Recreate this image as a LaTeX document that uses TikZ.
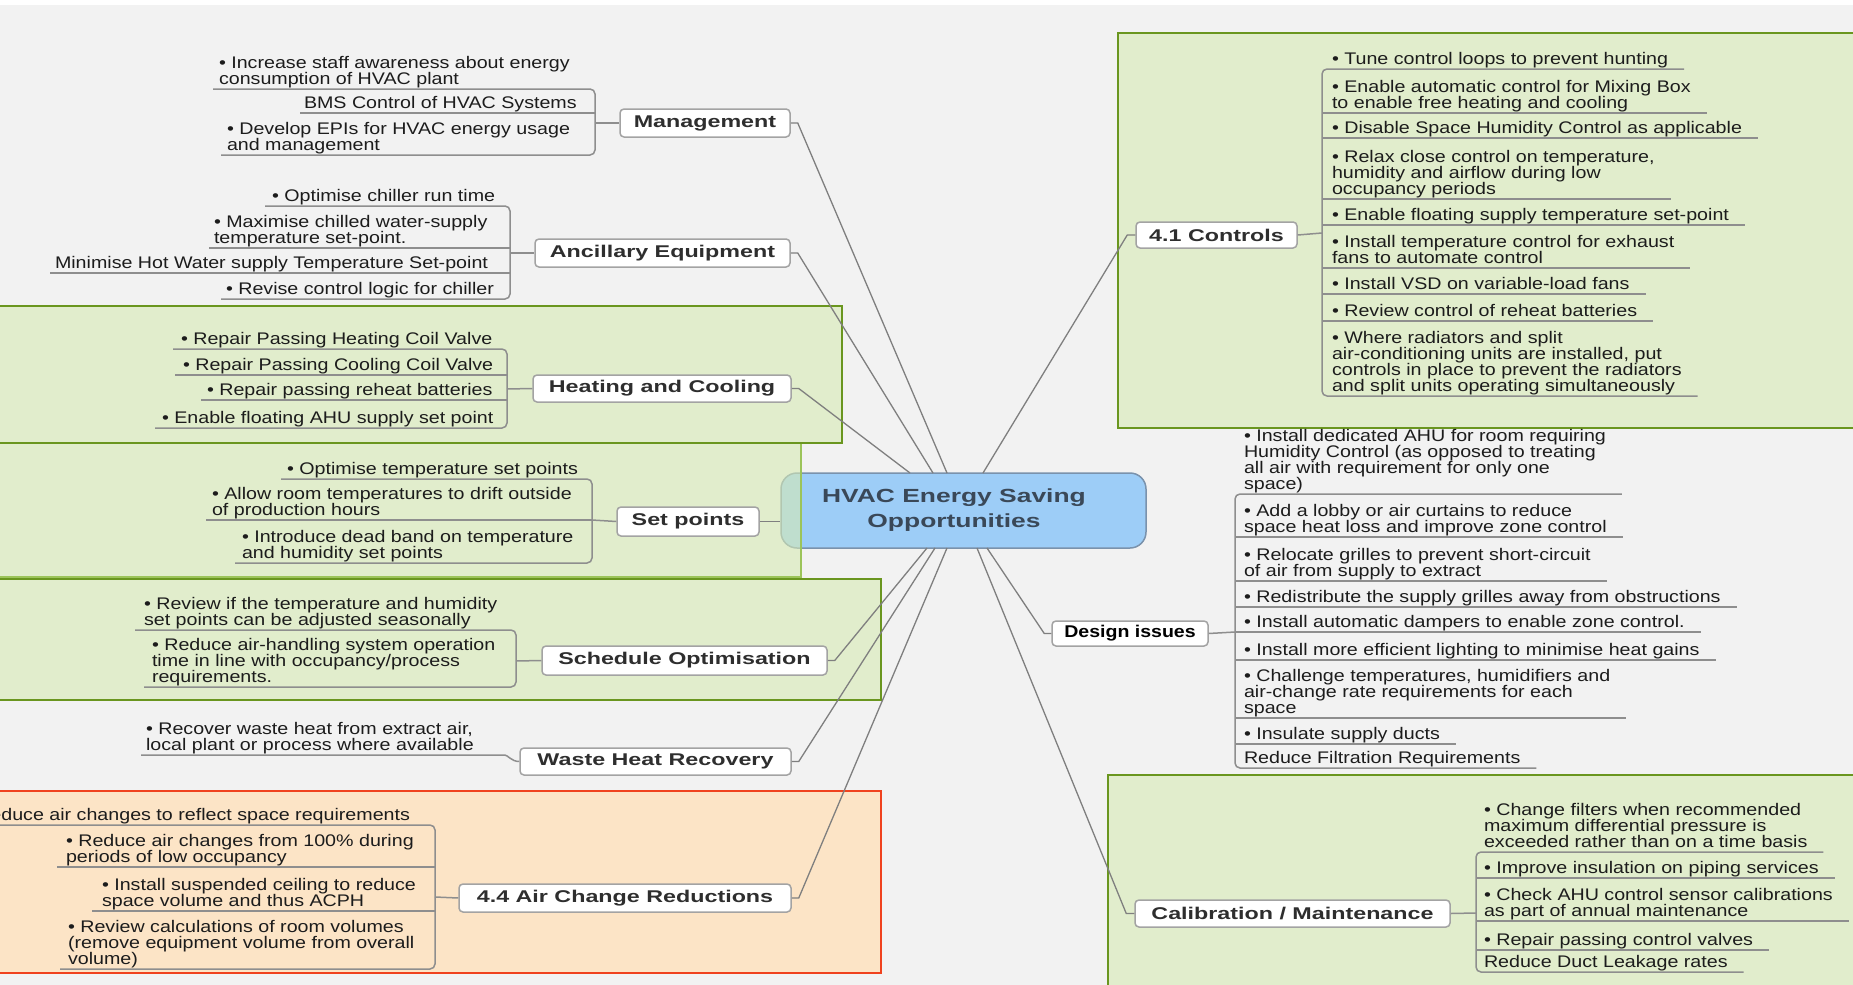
\documentclass[tikz,border=0pt]{standalone}
\usepackage{fontspec}
\setmainfont{Liberation Sans}
\newfontfamily\leaffont[FakeStretch=1.17]{Liberation Sans}
\newfontfamily\topicfont[FakeStretch=1.37]{Liberation Sans}
\newfontfamily\plainbold[FakeStretch=1.15]{Liberation Sans}
\newfontfamily\hubfont[FakeStretch=1.39]{Liberation Sans}
\usetikzlibrary{calc}

\definecolor{canvascol}{HTML}{F2F2F2}
\definecolor{panelgreen}{HTML}{D6EAB4}
\definecolor{panelrim}{HTML}{6A961F}
\definecolor{panelrimlight}{HTML}{9CC45A}
\definecolor{alertfill}{HTML}{FCE4C6}
\definecolor{alertrim}{HTML}{F0421E}
\definecolor{hubfillcol}{HTML}{9DCDF7}
\definecolor{hubrimcol}{HTML}{7A92AC}
\definecolor{hubtextcol}{HTML}{3A4858}
\definecolor{spokecol}{HTML}{7F7F7F}
\definecolor{twigcol}{HTML}{8E8E8E}
\definecolor{topicrimcol}{HTML}{A3A3A3}
\definecolor{topiccol}{HTML}{2E2E2E}
\definecolor{leafcol}{HTML}{1C1C1C}

\pgfdeclarelayer{canvaslayer}
\pgfdeclarelayer{hublayer}
\pgfdeclarelayer{panellayer}
\pgfsetlayers{canvaslayer,hublayer,panellayer,main}

\tikzset{
  leaf/.style={anchor=south west, inner sep=0pt, outer sep=0pt, align=left,
    text=leafcol, font=\leaffont\fontsize{16.8}{16}\selectfont,
    execute at end node=\strut},
  topic/.style={draw=topicrimcol, line width=1.5pt, fill=white, rounded corners=4pt,
    inner sep=0pt, text=topiccol, font=\topicfont\bfseries\fontsize{17}{17}\selectfont},
  twig/.style={draw=twigcol, line width=1.5pt, rounded corners=5pt},
  spoke/.style={draw=spokecol, line width=1.3pt},
  greenpanel/.style={fill=panelgreen, fill opacity=0.6, draw=panelrim, draw opacity=1, line width=2.5pt},
  softpanel/.style={fill=panelgreen, fill opacity=0.6, draw=panelrimlight, draw opacity=1, line width=1.2pt},
  alertpanel/.style={fill=alertfill, draw=alertrim, line width=2pt}
}

\begin{document}
\begin{tikzpicture}[x=1pt,y=-1pt]
\useasboundingbox (0,0) rectangle (1853,985);

% canvas
\begin{pgfonlayer}{canvaslayer}
  \fill[canvascol] (0,0) rectangle (1853,985);
  \fill[white] (0,0) rectangle (1853,5);
\end{pgfonlayer}

% central topic
\begin{pgfonlayer}{hublayer}
  \node[draw=hubrimcol, fill=hubfillcol, line width=1.5pt, rounded corners=16pt,
        minimum width=365pt, minimum height=75pt, inner sep=0pt] (hub) at (963.5,510.5) {};
  \node[align=center, inner sep=0pt, text=hubtextcol,
        font=\hubfont\bfseries\fontsize{19}{25}\selectfont] (hubtitle) at (954,510)
        {HVAC Energy Saving\\Opportunities};
\end{pgfonlayer}

% highlight panels
\begin{pgfonlayer}{panellayer}
  \path[softpanel] (-5,443) rectangle (801,577);
  \path[greenpanel] (-5,306) rectangle (842,443);
  \path[greenpanel] (-5,579) rectangle (881,700);
  \path[alertpanel] (-5,791) rectangle (881,973);
  \path[greenpanel] (1118,33) rectangle (1862,428);
  \path[greenpanel] (1108,775) rectangle (1862,995);
\end{pgfonlayer}

% main topics
\node[topic, minimum width=170pt, minimum height=28pt] (mgmt)   at (705,123)    {Management};
\node[topic, minimum width=255pt, minimum height=28pt] (anc)    at (662.5,253)  {Ancillary Equipment};
\node[topic, minimum width=258pt, minimum height=27pt] (heat)   at (662,388.5)  {Heating and Cooling};
\node[topic, minimum width=142pt, minimum height=29pt] (setp)   at (688,521.5)  {Set points};
\node[topic, minimum width=285pt, minimum height=29pt] (sched)  at (684.5,660.5){Schedule Optimisation};
\node[topic, minimum width=271pt, minimum height=27pt] (waste)  at (655.5,761.5){Waste Heat Recovery};
\node[topic, minimum width=332pt, minimum height=28pt] (air)    at (625,898)    {4.4 Air Change Reductions};
\node[topic, minimum width=161pt, minimum height=26pt] (ctrl)   at (1216.5,235) {4.1 Controls};
\node[topic, minimum width=156pt, minimum height=25pt, text=black,
      font=\plainbold\bfseries\fontsize{17}{17}\selectfont] (design) at (1130,633.5) {Design issues};
\node[topic, minimum width=315pt, minimum height=27pt] (calib)  at (1292.5,913.5){Calibration / Maintenance};

% anchor points on the central topic
\coordinate (h-heat) at (910,473);
\coordinate (h-anc)  at (933,473);
\coordinate (h-mg)   at (947,473);
\coordinate (h-ct)   at (983,473);
\coordinate (h-so)   at (927,548);
\coordinate (h-wh)   at (935,548);
\coordinate (h-ac)   at (947,548);
\coordinate (h-ca)   at (977,548);
\coordinate (h-dg)   at (987,548);

% spokes from the central topic
\draw[spoke] (mgmt.east)  -- ++(7,0) -- (h-mg);
\draw[spoke] (anc.east)   -- ++(7,0) -- (h-anc);
\draw[spoke] (heat.east)  -- ++(7,0) -- (h-heat);
\draw[spoke] (setp.east)  -- (setp.east -| hub.west);
\draw[spoke] (sched.east) -- ++(7,0) -- (h-so);
\draw[spoke] (waste.east) -- ++(7,0) -- (h-wh);
\draw[spoke] (air.east)   -- ++(7,0) -- (h-ac);
\draw[spoke] (h-ct) -- ([xshift=-8pt]ctrl.west) -- (ctrl.west);
\draw[spoke] (h-dg) -- ([xshift=-7pt]design.west) -- (design.west);
\draw[spoke] (h-ca) -- ([xshift=-8pt]calib.west) -- (calib.west);

% ---------- Management ----------
\coordinate (bk-mg) at (595,123);
\node[leaf] (mg1) at (219,89)  {• Increase staff awareness about energy\\consumption of HVAC plant};
\node[leaf] (mg2) at (304,113) {BMS Control of HVAC Systems};
\node[leaf] (mg3) at (227,155) {• Develop EPIs for HVAC energy usage\\and management};
\draw[twig] ([xshift=-6pt]mg1.south west) -- (mg1.south -| bk-mg) -- (mg3.south -| bk-mg) -- ([xshift=-6pt]mg3.south west);
\draw[twig] ([xshift=-4pt]mg2.south west) -- (mg2.south -| bk-mg);
\draw[twig] (bk-mg) -- (mgmt.west);

% ---------- Ancillary Equipment ----------
\coordinate (bk-an) at (510,253);
\node[leaf] (an1) at (272,206) {• Optimise chiller run time};
\node[leaf] (an2) at (214,248) {• Maximise chilled water-supply\\temperature set-point.};
\node[leaf] (an3) at (55,273)  {Minimise Hot Water supply Temperature Set-point};
\node[leaf] (an4) at (226,299) {• Revise control logic for chiller};
\draw[twig] ([xshift=-7pt]an1.south west) -- (an1.south -| bk-an) -- (an4.south -| bk-an) -- ([xshift=-5pt]an4.south west);
\draw[twig] ([xshift=-5pt]an2.south west) -- (an2.south -| bk-an);
\draw[twig] ([xshift=-5pt]an3.south west) -- (an3.south -| bk-an);
\draw[twig] (bk-an) -- (anc.west);

% ---------- Heating and Cooling ----------
\coordinate (bk-hc) at (507,389);
\node[leaf] (hc1) at (181,349) {• Repair Passing Heating Coil Valve};
\node[leaf] (hc2) at (183,375) {• Repair Passing Cooling Coil Valve};
\node[leaf] (hc3) at (207,400) {• Repair passing reheat batteries};
\node[leaf] (hc4) at (162,428) {• Enable floating AHU supply set point};
\draw[twig] ([xshift=-8pt]hc1.south west) -- (hc1.south -| bk-hc) -- (hc4.south -| bk-hc) -- ([xshift=-7pt]hc4.south west);
\draw[twig] ([xshift=-8pt]hc2.south west) -- (hc2.south -| bk-hc);
\draw[twig] ([xshift=-6pt]hc3.south west) -- (hc3.south -| bk-hc);
\draw[twig] (bk-hc) -- (heat.west);

% ---------- Set points ----------
\coordinate (bk-sp) at (592,520);
\node[leaf] (sp1) at (287,479) {• Optimise temperature set points};
\node[leaf] (sp2) at (212,520) {• Allow room temperatures to drift outside\\of production hours};
\node[leaf] (sp3) at (242,563) {• Introduce dead band on temperature\\and humidity set points};
\draw[twig] ([xshift=-6pt]sp1.south west) -- (sp1.south -| bk-sp) -- (sp3.south -| bk-sp) -- ([xshift=-7pt]sp3.south west);
\draw[twig] ([xshift=-6pt]sp2.south west) -- (sp2.south -| bk-sp);
\draw[twig] (bk-sp) -- (setp.west);

% ---------- Schedule Optimisation ----------
\coordinate (bk-so) at (516,661);
\node[leaf] (so1) at (144,630) {• Review if the temperature and humidity\\set points can be adjusted seasonally};
\node[leaf] (so2) at (152,687) {• Reduce air-handling system operation\\time in line with occupancy/process\\requirements.};
\draw[twig] ([xshift=-9pt]so1.south west) -- (so1.south -| bk-so) -- (so2.south -| bk-so) -- ([xshift=-8pt]so2.south west);
\draw[twig] (bk-so) -- (sched.west);

% ---------- Waste Heat Recovery ----------
\node[leaf] (wh1) at (146,755) {• Recover waste heat from extract air,\\local plant or process where available};
\draw[twig] ([xshift=-5pt]wh1.south west) -- ([xshift=26pt]wh1.south east) to[out=0,in=180] (waste.west);

% ---------- 4.4 Air Change Reductions ----------
\coordinate (bk-ac) at (435,897);
\node[leaf, anchor=south east] (ac1) at (410,825) {• Reduce air changes to reflect space requirements};
\node[leaf] (ac2) at (66,867)  {• Reduce air changes from 100\% during\\periods of low occupancy};
\node[leaf] (ac3) at (102,911) {• Install suspended ceiling to reduce\\space volume and thus ACPH};
\node[leaf] (ac4) at (68,969)  {• Review calculations of room volumes\\(remove equipment volume from overall\\volume)};
\draw[twig] ([xshift=-6pt]ac1.south west) -- (ac1.south -| bk-ac) -- (ac4.south -| bk-ac) -- ([xshift=-8pt]ac4.south west);
\draw[twig] ([xshift=-9pt]ac2.south west) -- (ac2.south -| bk-ac);
\draw[twig] ([xshift=-10pt]ac3.south west) -- (ac3.south -| bk-ac);
\draw[twig] (bk-ac) -- (air.west);

% ---------- 4.1 Controls ----------
\coordinate (bk-ct) at (1322,233);
\node[leaf] (ct1) at (1332,69)  {• Tune control loops to prevent hunting};
\node[leaf] (ct2) at (1332,113) {• Enable automatic control for Mixing Box\\to enable free heating and cooling};
\node[leaf] (ct3) at (1332,138) {• Disable Space Humidity Control as applicable};
\node[leaf] (ct4) at (1332,199) {• Relax close control on temperature,\\humidity and airflow during low\\occupancy periods};
\node[leaf] (ct5) at (1332,225) {• Enable floating supply temperature set-point};
\node[leaf] (ct6) at (1332,268) {• Install temperature control for exhaust\\fans to automate control};
\node[leaf] (ct7) at (1332,294) {• Install VSD on variable-load fans};
\node[leaf] (ct8) at (1332,321) {• Review control of reheat batteries};
\node[leaf] (ct9) at (1332,396) {• Where radiators and split\\air-conditioning units are installed, put\\controls in place to prevent the radiators\\and split units operating simultaneously};
\draw[twig] ([xshift=16pt]ct1.south east) -- (ct1.south -| bk-ct) -- (ct9.south -| bk-ct) -- ([xshift=16pt]ct9.south east);
\foreach \k in {ct2,ct3,ct4,ct5,ct6,ct7,ct8}
  \draw[twig] (\k.south -| bk-ct) -- ([xshift=16pt]\k.south east);
\draw[twig] (ctrl.east) -- (bk-ct);

% ---------- Design issues ----------
\coordinate (bk-dg) at (1235,632);
\node[leaf] (dg1) at (1244,494) {• Install dedicated AHU for room requiring\\Humidity Control (as opposed to treating\\all air with requirement for only one\\space)};
\node[leaf] (dg2) at (1244,537) {• Add a lobby or air curtains to reduce\\space heat loss and improve zone control};
\node[leaf] (dg3) at (1244,581) {• Relocate grilles to prevent short-circuit\\of air from supply to extract};
\node[leaf] (dg4) at (1244,607) {• Redistribute the supply grilles away from obstructions};
\node[leaf] (dg5) at (1244,632) {• Install automatic dampers to enable zone control.};
\node[leaf] (dg6) at (1244,660) {• Install more efficient lighting to minimise heat gains};
\node[leaf] (dg7) at (1244,718) {• Challenge temperatures, humidifiers and\\air-change rate requirements for each\\space};
\node[leaf] (dg8) at (1244,744) {• Insulate supply ducts};
\node[leaf] (dg9) at (1244,768) {Reduce Filtration Requirements};
\draw[twig] ([xshift=16pt]dg1.south east) -- (dg1.south -| bk-dg) -- (dg9.south -| bk-dg) -- ([xshift=16pt]dg9.south east);
\foreach \k in {dg2,dg3,dg4,dg5,dg6,dg7,dg8}
  \draw[twig] (\k.south -| bk-dg) -- ([xshift=16pt]\k.south east);
\draw[twig] (design.east) -- (bk-dg);

% ---------- Calibration / Maintenance ----------
\coordinate (bk-cm) at (1476,913);
\node[leaf] (cm1) at (1484,852) {• Change filters when recommended\\maximum differential pressure is\\exceeded rather than on a time basis};
\node[leaf] (cm2) at (1484,878) {• Improve insulation on piping services};
\node[leaf] (cm3) at (1484,921) {• Check AHU control sensor calibrations\\as part of annual maintenance};
\node[leaf] (cm4) at (1484,950) {• Repair passing control valves};
\node[leaf] (cm5) at (1484,972) {Reduce Duct Leakage rates};
\draw[twig] ([xshift=16pt]cm1.south east) -- (cm1.south -| bk-cm) -- (cm5.south -| bk-cm) -- ([xshift=16pt]cm5.south east);
\foreach \k in {cm2,cm3,cm4}
  \draw[twig] (\k.south -| bk-cm) -- ([xshift=16pt]\k.south east);
\draw[twig] (calib.east) -- (bk-cm);

\end{tikzpicture}
\end{document}
